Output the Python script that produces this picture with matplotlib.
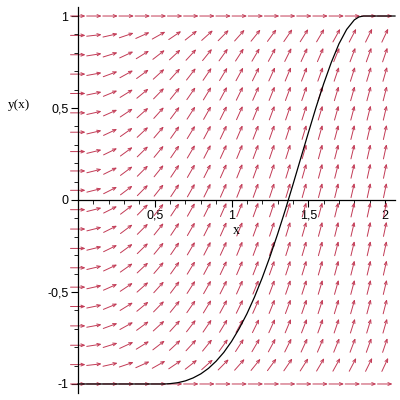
import numpy as np
import matplotlib
matplotlib.use("Agg")
import matplotlib.pyplot as plt
from matplotlib.ticker import FixedLocator, MultipleLocator, FuncFormatter

# direction field grid (20 x 20) and the ODE y' = 2x*sqrt(1-y^2)
x_grid = np.linspace(0, 2, 20)
y_grid = np.linspace(-1, 1, 20)
coef = 2.0

# solution curve
curve_x = [0.0, 0.55, 0.57, 0.6, 0.65, 0.7, 0.75, 0.8, 0.85, 0.9, 0.95, 1.0, 1.05, 1.1,
           1.15, 1.2, 1.25, 1.3, 1.35, 1.4, 1.45, 1.5, 1.55, 1.6, 1.65, 1.7, 1.75,
           1.8, 1.83, 1.86, 2.065]
curve_y = [-1.0, -1.0, -0.9998, -0.998, -0.993, -0.983, -0.967, -0.945, -0.915, -0.876,
           -0.828, -0.769, -0.699, -0.619, -0.527, -0.423, -0.309, -0.186, -0.055,
           0.083, 0.224, 0.364, 0.502, 0.631, 0.748, 0.849, 0.927, 0.979, 0.995, 1.0, 1.0]

x_ticks = [0.5, 1, 1.5, 2]
y_ticks = [-1, -0.5, 0, 0.5, 1]

arrow_col = "#c23a55"

fig = plt.figure(figsize=(4, 4), dpi=100)
ax = fig.add_axes([78 / 400, 7 / 400, (395 - 78) / 400, (393 - 7) / 400])
ax.set_xlim(0, 2.065)
ax.set_ylim(-1.049, 1.049)

# pixels per data unit, used to keep arrows the same length on screen
ppx = 153.5
ppy = 184.0
L = 15.0

for xg in x_grid:
    for yg in y_grid:
        s = coef * xg * np.sqrt(max(0.0, 1 - yg ** 2))
        vx, vy = ppx, s * ppy
        n = np.hypot(vx, vy)
        dx = vx / n * L / 2 / ppx
        dy = vy / n * L / 2 / ppy
        ax.annotate("", xy=(xg + dx, yg + dy), xytext=(xg - dx, yg - dy),
                    arrowprops=dict(arrowstyle="->,head_length=0.24,head_width=0.1",
                                    color=arrow_col, lw=0.7, shrinkA=0, shrinkB=0),
                    annotation_clip=False, zorder=2)

ax.plot(curve_x, curve_y, color="black", lw=0.9, zorder=3, clip_on=False)

for sp in ["top", "right"]:
    ax.spines[sp].set_visible(False)
ax.spines["left"].set_position(("data", 0))
ax.spines["bottom"].set_position(("data", 0))
for sp in ["left", "bottom"]:
    ax.spines[sp].set_linewidth(0.9)

fmt = FuncFormatter(lambda v, p: ("%g" % v).replace(".", ","))
ax.xaxis.set_major_locator(FixedLocator(x_ticks))
ax.yaxis.set_major_locator(FixedLocator(y_ticks))
ax.xaxis.set_minor_locator(MultipleLocator(0.1))
ax.yaxis.set_minor_locator(MultipleLocator(0.1))
ax.xaxis.set_major_formatter(fmt)
ax.yaxis.set_major_formatter(fmt)
ax.tick_params(which="major", direction="out", length=5, width=0.8, labelsize=9, pad=2)
ax.tick_params(which="minor", direction="out", length=3, width=0.6)
for lab in ax.get_xticklabels() + ax.get_yticklabels():
    lab.set_family("Liberation Sans")

fig.text(19 / 400, 1 - 105 / 400, "y(x)", family="Liberation Serif", fontsize=9.5,
         ha="center", va="center")
fig.text(236 / 400, 1 - 231 / 400, "x", family="Liberation Serif", fontsize=10,
         ha="center", va="center")

fig.savefig("out.png", dpi=100)
